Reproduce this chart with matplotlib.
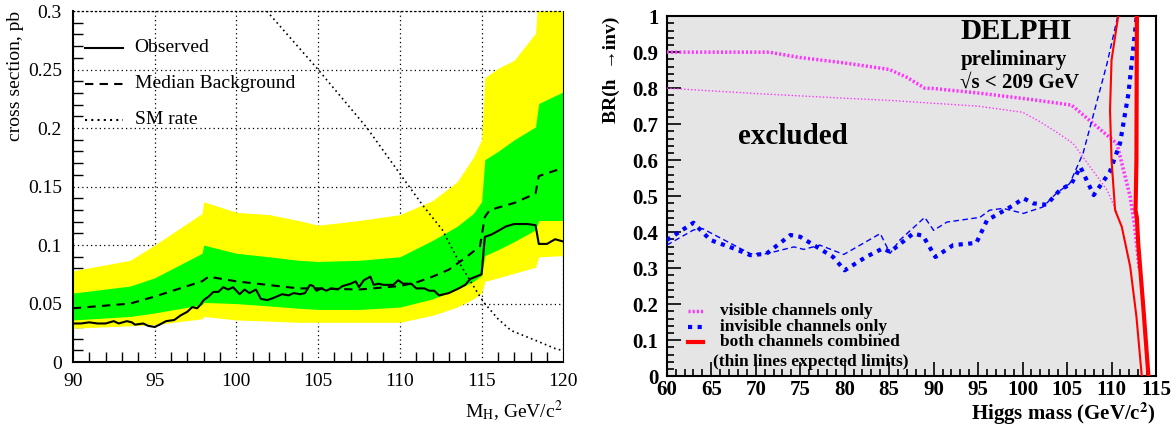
import numpy as np
import matplotlib
matplotlib.use("Agg")
import matplotlib.pyplot as plt
from matplotlib.ticker import MultipleLocator

plt.rcParams['font.family'] = ['Liberation Serif', 'DejaVu Serif']
plt.rcParams['mathtext.fontset'] = 'stix'

# ---- left panel data: cross section limits vs M_H ----
band_m = [90, 93.5, 95, 97.9, 98.0, 100, 102, 103.8, 105, 107.5, 110, 112, 113.5,
          114.5, 115.0, 115.2, 116, 117, 118.3, 118.5, 120]
yellow_hi = [0.078, 0.087, 0.100, 0.127, 0.137, 0.128, 0.126, 0.121, 0.117, 0.121, 0.126,
             0.138, 0.154, 0.175, 0.190, 0.243, 0.251, 0.258, 0.281, 0.32, 0.32]
green_hi = [0.059, 0.065, 0.072, 0.093, 0.100, 0.093, 0.090, 0.087, 0.086, 0.087, 0.090,
            0.104, 0.116, 0.127, 0.137, 0.173, 0.180, 0.190, 0.201, 0.221, 0.231]
green_lo = [0.036, 0.039, 0.042, 0.049, 0.051, 0.050, 0.048, 0.046, 0.045, 0.045, 0.047,
            0.054, 0.062, 0.069, 0.074, 0.091, 0.096, 0.103, 0.113, 0.121, 0.121]
yellow_lo = [0.029, 0.031, 0.032, 0.037, 0.039, 0.036, 0.035, 0.034, 0.034, 0.034, 0.034,
             0.040, 0.047, 0.054, 0.059, 0.069, 0.072, 0.076, 0.081, 0.090, 0.091]

median_m = [90, 93.5, 95, 97.9, 98.3, 100, 103.8, 105, 107.5, 110, 111, 112, 113, 114,
            114.9, 115.2, 115.5, 117, 118.3, 118.5, 120]
median_xs = [0.046, 0.050, 0.056, 0.069, 0.073, 0.069, 0.063, 0.063, 0.062, 0.065, 0.068,
             0.073, 0.079, 0.089, 0.099, 0.124, 0.130, 0.136, 0.144, 0.159, 0.166]

obs_m = [90.0, 90.5, 91.0, 91.5, 92.0, 92.5, 92.8, 93.3, 93.6, 93.8, 94.3, 94.6, 95.0,
         95.3, 95.7, 96.2, 96.6, 97.0, 97.3, 97.6, 97.8, 98.0, 98.3, 98.6, 98.9, 99.2,
         99.5, 99.8, 100.2, 100.5, 100.8, 101.2, 101.5, 101.9, 102.3, 102.8, 103.2, 103.5,
         103.9, 104.2, 104.5, 104.7, 104.9, 105.2, 105.5, 105.8, 106.2, 106.5, 107.0,
         107.3, 107.5, 107.8, 108.2, 108.4, 108.7, 109.0, 109.6, 109.9, 110.2, 110.7,
         111.0, 111.5, 111.8, 112.1, 112.4, 113.0, 113.6, 114.0, 114.3, 115.0, 115.2,
         115.6, 116.0, 116.5, 117.0, 117.8, 118.3, 118.5, 119.0, 119.5, 120.0]
obs_xs = [0.033, 0.033, 0.034, 0.033, 0.033, 0.035, 0.033, 0.035, 0.034, 0.032, 0.033,
          0.031, 0.030, 0.032, 0.035, 0.036, 0.040, 0.043, 0.047, 0.046, 0.049, 0.053,
          0.056, 0.060, 0.060, 0.064, 0.062, 0.064, 0.058, 0.062, 0.059, 0.062, 0.054,
          0.053, 0.055, 0.058, 0.057, 0.059, 0.058, 0.059, 0.066, 0.065, 0.061, 0.063,
          0.061, 0.063, 0.062, 0.065, 0.067, 0.069, 0.064, 0.070, 0.073, 0.066, 0.067,
          0.066, 0.066, 0.070, 0.067, 0.067, 0.063, 0.063, 0.061, 0.061, 0.057, 0.059,
          0.063, 0.066, 0.071, 0.075, 0.107, 0.109, 0.112, 0.116, 0.118, 0.118, 0.117,
          0.101, 0.101, 0.105, 0.103]

sm_m = [101.86, 105, 108, 110, 111.4, 112.6, 113.8, 114.9, 115.2, 116, 116.8, 118.4, 119.6, 120]
sm_xs = [0.3, 0.25, 0.2, 0.161, 0.134, 0.113, 0.081, 0.056, 0.050, 0.037, 0.027, 0.018, 0.011, 0.010]

left_yticks = [0, 0.05, 0.1, 0.15, 0.2, 0.25, 0.3]
left_ylabels = ['0', '0.05', '0.1', '0.15', '0.2', '0.25', '0.3']
left_xticks = [90, 95, 100, 105, 110, 115, 120]

# ---- right panel data: BR(h->inv) vs Higgs mass ----
vis_obs_m = [60, 71.5, 75, 80, 85, 87, 89, 90, 95.2, 100.8, 105.5, 110.6, 112.1, 112.6, 113.1]
vis_obs_br = [0.90, 0.90, 0.885, 0.87, 0.852, 0.83, 0.80, 0.799, 0.786, 0.769, 0.753, 0.646,
              0.498, 0.415, 0.30]
vis_exp_m = [60, 70, 80, 85, 90, 95, 100, 102, 104, 105.7, 107.6, 109.5, 110.6]
vis_exp_br = [0.80, 0.785, 0.772, 0.766, 0.758, 0.75, 0.733, 0.706, 0.675, 0.646, 0.581,
              0.517, 0.455]

inv_obs_m = [60, 63, 64.9, 67.5, 69.4, 71.2, 73.9, 75, 78.7, 80, 82.4, 84.3, 85.1, 87.7, 88.8,
             90.2, 92.2, 94.8, 96, 99, 100.1, 101.2, 102.7, 104.2, 105.5, 106.5, 108.0, 109.8,
             110.95, 111.9, 112.5, 112.83]
inv_obs_br = [0.378, 0.426, 0.378, 0.355, 0.336, 0.34, 0.392, 0.387, 0.331, 0.294, 0.331,
              0.355, 0.345, 0.396, 0.39, 0.331, 0.364, 0.37, 0.433, 0.475, 0.494, 0.48,
              0.476, 0.517, 0.535, 0.581, 0.503, 0.567, 0.646, 0.785, 0.924, 1.0]
inv_exp_m = [60, 63, 64, 69.4, 71.2, 74.3, 75.4, 77.2, 79.9, 84, 85.1, 86.2, 89, 90, 91.5,
             95.2, 96.3, 97.8, 100.1, 102.3, 103.8, 105.3, 106.8, 108.1, 109.5, 110.7]
inv_exp_br = [0.364, 0.406, 0.41, 0.34, 0.34, 0.359, 0.352, 0.364, 0.338, 0.396, 0.341,
              0.378, 0.441, 0.405, 0.428, 0.441, 0.461, 0.466, 0.452, 0.47, 0.508, 0.535,
              0.619, 0.739, 0.869, 1.0]

comb_obs_m = [114.15, 113.6, 113.0, 112.85, 112.7, 112.8, 112.85]
comb_obs_br = [0.0, 0.183, 0.369, 0.44, 0.46, 0.6, 1.0]
comb_exp_m = [113.4, 112.8, 112.1, 111.15, 110.4, 110.0, 109.83, 110.0, 110.75]
comb_exp_br = [0.0, 0.165, 0.304, 0.415, 0.461, 0.6, 0.739, 0.878, 1.0]

right_yticks = [0, 0.1, 0.2, 0.3, 0.4, 0.5, 0.6, 0.7, 0.8, 0.9, 1]
right_ylabels = ['0', '0.1', '0.2', '0.3', '0.4', '0.5', '0.6', '0.7', '0.8', '0.9', '1']
right_xticks = [60, 65, 70, 75, 80, 85, 90, 95, 100, 105, 110, 115]

fig = plt.figure(figsize=(11.76, 4.25), dpi=100)

# %% left panel
ax1 = fig.add_axes([0.062, 0.148, 0.417, 0.826])
ax1.fill_between(band_m, yellow_lo, yellow_hi, color='#ffff00', lw=0, zorder=1)
ax1.fill_between(band_m, green_lo, green_hi, color='#00ff00', lw=0, zorder=2)
ax1.plot(obs_m, obs_xs, color='black', lw=1.5, zorder=4)
ax1.plot(median_m, median_xs, color='black', lw=1.5, ls=(0, (4, 3)), zorder=4)
ax1.plot(sm_m, sm_xs, color='black', lw=1.2, ls=(0, (1, 2)), zorder=4)
ax1.set_xlim(90, 120)
ax1.set_ylim(0, 0.3)
ax1.grid(True, ls=(0, (1, 2.5)), color='black', lw=0.9, zorder=0)
ax1.set_axisbelow(True)
ax1.set_xticks(left_xticks)
ax1.set_yticks(left_yticks)
ax1.set_yticklabels(left_ylabels)
ax1.xaxis.set_minor_locator(MultipleLocator(1))
ax1.yaxis.set_minor_locator(MultipleLocator(0.01))
ax1.tick_params(which='both', direction='in', labelsize=14, width=1)
ax1.tick_params(which='major', length=0, pad=8)
ax1.tick_params(which='minor', length=7)
ax1.spines['top'].set_linestyle((0, (1, 2.5)))
ax1.spines['top'].set_linewidth(0.9)
ax1.spines['left'].set_linewidth(1.5)
ax1.spines['bottom'].set_linewidth(1.5)
ax1.set_ylabel('cross section, pb', fontsize=14, loc='top')
ax1.yaxis.set_label_coords(-0.1, 1.0)
ax1.set_xlabel(r'M$_{\rm H}$, GeV/c$^2$', fontsize=14, loc='right', labelpad=6)

# legend drawn by hand, like the original
leg = [('Observed', '-'), ('Median Background', (0, (4, 3))), ('SM rate', (0, (1, 2)))]
for i, (lab, st) in enumerate(leg):
    yy = 0.895 - i * 0.102
    ax1.plot([0.025, 0.102], [yy, yy], transform=ax1.transAxes, color='black', lw=1.5, ls=st)
    ax1.text(0.126, yy, lab, transform=ax1.transAxes, fontsize=14, va='center')

# %% right panel
ax2 = fig.add_axes([0.567, 0.115, 0.416, 0.847])
gray_m = [60] + comb_obs_m + [60]
gray_br = [0.0] + comb_obs_br + [1.0]
ax2.fill(gray_m, gray_br, color='#e5e5e5', lw=0, zorder=0)
ax2.plot(vis_exp_m, vis_exp_br, color='#ff33ff', lw=1.0, ls=(0, (1, 1.5)), zorder=3)
ax2.plot(vis_obs_m, vis_obs_br, color='#ff33ff', lw=2.5, ls=(0, (0.6, 0.6)), zorder=3)
ax2.plot(inv_exp_m, inv_exp_br, color='#0000ff', lw=1.0, ls=(0, (4, 2.5)), zorder=3)
ax2.plot(inv_obs_m, inv_obs_br, color='#0000ff', lw=3.0, ls=(0, (1, 1.3)), zorder=3)
ax2.plot(comb_exp_m, comb_exp_br, color='#ff0000', lw=1.5, zorder=4)
ax2.plot(comb_obs_m, comb_obs_br, color='#ff0000', lw=3.0, zorder=4)
ax2.set_xlim(60, 115)
ax2.set_ylim(0, 1)
ax2.set_xticks(right_xticks)
ax2.set_yticks(right_yticks)
ax2.set_yticklabels(right_ylabels)
ax2.xaxis.set_minor_locator(MultipleLocator(1))
ax2.yaxis.set_minor_locator(MultipleLocator(0.02))
ax2.tick_params(which='both', direction='in', labelsize=15, width=1.2)
ax2.tick_params(which='major', length=10, pad=6)
ax2.tick_params(which='minor', length=5)
ax2.tick_params(axis='x', pad=3)
for lab in ax2.get_xticklabels() + ax2.get_yticklabels():
    lab.set_fontweight('bold')
for sp in ax2.spines.values():
    sp.set_linewidth(1.5)
ax2.set_ylabel('BR(h  →inv)', fontsize=14, fontweight='bold', loc='top')
ax2.yaxis.set_label_coords(-0.095, 1.0)
ax2.set_xlabel(r'Higgs mass (GeV/c$^\mathbf{2}$)', fontsize=15, fontweight='bold',
               loc='right', labelpad=0)

ax2.text(0.60, 0.995, 'DELPHI', transform=ax2.transAxes, fontsize=21, fontweight='bold',
         va='top', ha='left')
ax2.text(0.60, 0.907, 'preliminary', transform=ax2.transAxes, fontsize=15,
         fontweight='bold', va='top', ha='left')
ax2.text(0.60, 0.842, '√s < 209 GeV', transform=ax2.transAxes, fontsize=15,
         fontweight='bold', va='top', ha='left')
ax2.text(0.145, 0.665, 'excluded', transform=ax2.transAxes, fontsize=21,
         fontweight='bold', va='center', ha='left')

leg2 = [('visible channels only', '#ff33ff', 2.5, (0, (0.6, 0.6))),
        ('invisible channels only', '#0000ff', 3.0, (0, (1, 1.3))),
        ('both channels combined', '#ff0000', 3.0, '-')]
for i, (lab, col, lw, st) in enumerate(leg2):
    yy = 0.18 - i * 0.043
    ax2.plot([0.043, 0.074], [yy, yy], transform=ax2.transAxes, color=col, lw=lw, ls=st)
    ax2.text(0.108, yy, lab, transform=ax2.transAxes, fontsize=12.5, fontweight='bold',
             va='center')
ax2.text(0.095, 0.04, '(thin lines expected limits)', transform=ax2.transAxes,
         fontsize=12.5, fontweight='bold', va='center')

fig.savefig('out.png', dpi=100)
